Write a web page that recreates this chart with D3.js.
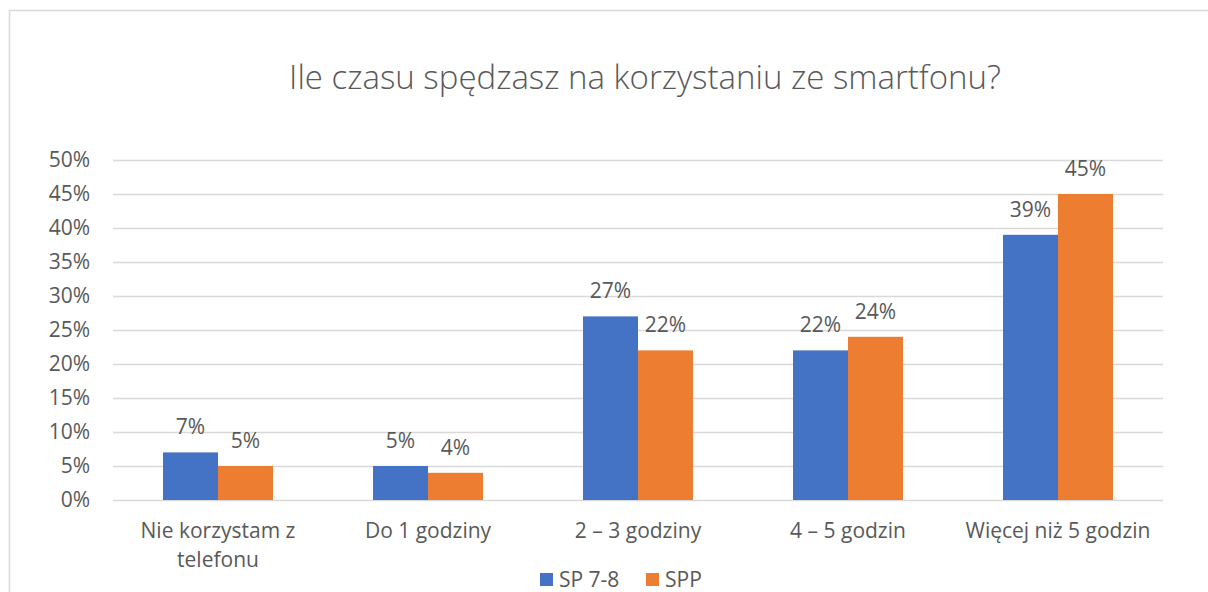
<!DOCTYPE html>
<html>
<head>
<meta charset="utf-8">
<script src="https://cdn.jsdelivr.net/npm/d3@7"></script>
<style>
  html, body { margin: 0; padding: 0; background: #fff; }
  svg { display: block; }
  text { font-family: "Open Sans", "Noto Sans", sans-serif; fill: #595959; }
</style>
</head>
<body>
<svg id="chart" width="1208" height="592"></svg>
<script>
const title = "Ile czasu spędzasz na korzystaniu ze smartfonu?";
const categories = [["Nie korzystam z", "telefonu"], ["Do 1 godziny"], ["2 – 3 godziny"], ["4 – 5 godzin"], ["Więcej niż 5 godzin"]];
const seriesNames = ["SP 7-8", "SPP"];
const sp78 = [7, 5, 27, 22, 39];
const spp = [5, 4, 22, 24, 45];
const colors = ["#4472c4", "#ed7d31"];
const yTicks = [0, 5, 10, 15, 20, 25, 30, 35, 40, 45, 50];

const svg = d3.select("#chart");
const W = 1208, H = 592;
const plot = { left: 113, right: 1163, top: 160, bottom: 500 };
const labelSize = "21px";

// outer chart frame
svg.append("rect")
  .attr("x", 9.5).attr("y", 10.5)
  .attr("width", W + 10).attr("height", H + 10)
  .attr("fill", "#fff").attr("stroke", "#d9d9d9").attr("stroke-width", 1.5);

svg.append("text")
  .attr("x", 645).attr("y", 89)
  .attr("text-anchor", "middle")
  .style("font-size", "33px").style("font-weight", 300)
  .text(title);

const x = d3.scaleBand()
  .domain(d3.range(categories.length))
  .range([plot.left, plot.right])
  .paddingInner(100 / 210).paddingOuter(50 / 210);
const xs = d3.scaleBand().domain([0, 1]).range([0, x.bandwidth()]);
const y = d3.scaleLinear().domain([0, 50]).range([plot.bottom, plot.top]);

// gridlines
svg.append("g").selectAll("line").data(yTicks).join("line")
  .attr("x1", plot.left).attr("x2", plot.right)
  .attr("y1", d => Math.round(y(d)) + 0.5).attr("y2", d => Math.round(y(d)) + 0.5)
  .attr("stroke", "#d9d9d9").attr("stroke-width", 1.3);

// y axis labels
const yAxis = d3.axisLeft(y).tickValues(yTicks).tickFormat(d => d + "%").tickSize(0).tickPadding(0);
const gy = svg.append("g").attr("transform", `translate(90,0)`).call(yAxis);
gy.select(".domain").remove();
gy.selectAll("text").style("font-size", labelSize).attr("fill", "#595959")
  .style("font-family", "\"Open Sans\", sans-serif");

const series = [sp78, spp];
series.forEach((vals, si) => {
  const g = svg.append("g");
  g.selectAll("rect").data(vals).join("rect")
    .attr("x", (d, i) => x(i) + xs(si))
    .attr("width", xs.bandwidth())
    .attr("y", d => y(d))
    .attr("height", d => y(0) - y(d))
    .attr("fill", colors[si]);
  g.selectAll("text").data(vals).join("text")
    .attr("x", (d, i) => x(i) + xs(si) + xs.bandwidth() / 2)
    .attr("y", d => y(d) - 18)
    .attr("text-anchor", "middle")
    .style("font-size", labelSize)
    .text(d => d + "%");
});

// category labels
const gx = svg.append("g");
categories.forEach((lines, i) => {
  const cx = x(i) + x.bandwidth() / 2;
  const t = gx.append("text")
    .attr("x", cx)
    .attr("y", 538)
    .attr("text-anchor", "middle")
    .style("font-size", labelSize);
  lines.forEach((ln, j) => {
    t.append("tspan").attr("x", cx).attr("dy", j === 0 ? 0 : 29).text(ln);
  });
});

// legend
const legend = svg.append("g");
const legendX = [540, 646];
seriesNames.forEach((name, i) => {
  legend.append("rect").attr("x", legendX[i]).attr("y", 573).attr("width", 13).attr("height", 13).attr("fill", colors[i]);
  legend.append("text").attr("x", legendX[i] + 19).attr("y", 587).style("font-size", labelSize).text(name);
});
</script>
</body>
</html>
